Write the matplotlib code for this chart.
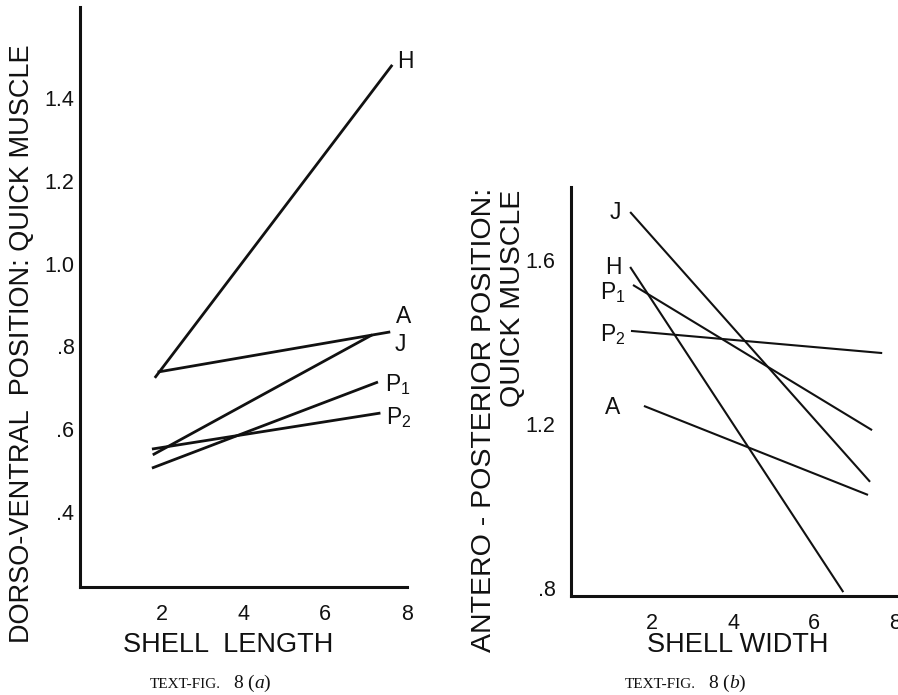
import matplotlib
matplotlib.use("Agg")
import matplotlib.pyplot as plt

plt.rcParams['font.family'] = ['Liberation Sans', 'DejaVu Sans']
plt.rcParams['mathtext.fontset'] = 'custom'
plt.rcParams['mathtext.rm'] = 'Liberation Sans'
plt.rcParams['mathtext.it'] = 'Liberation Serif:italic'
plt.rcParams['mathtext.sf'] = 'Liberation Sans'

# ---------------- data: panel (a) ----------------
a_series = ["H", "A", "J", "P$_1$", "P$_2$"]
a_x0 = [1.83, 1.90, 1.78, 1.76, 1.76]
a_x1 = [7.64, 7.59, 7.15, 7.29, 7.35]
a_y0 = [0.724, 0.738, 0.538, 0.506, 0.552]
a_y1 = [1.480, 0.835, 0.828, 0.714, 0.639]
a_xticks = [2, 4, 6, 8]
a_yticks = [0.4, 0.6, 0.8, 1.0, 1.2, 1.4]
a_yticklabels = [".4", ".6", ".8", "1.0", "1.2", "1.4"]

# ---------------- data: panel (b) ----------------
b_series = ["J", "H", "P$_1$", "P$_2$", "A"]
b_x0 = [1.46, 1.46, 1.53, 1.48, 1.80]
b_x1 = [7.38, 6.72, 7.43, 7.68, 7.33]
b_y0 = [1.717, 1.583, 1.539, 1.427, 1.244]
b_y1 = [1.059, 0.790, 1.185, 1.373, 1.027]
b_xticks = [2, 4, 6, 8]
b_yticks = [0.8, 1.2, 1.6]
b_yticklabels = [".8", "1.2", "1.6"]

# label offsets (pixels) from line end (a) / line start (b)
a_off = [(13, 3), (13, 15), (28, -10), (20, -3), (18, -5)]
b_off = [(-15, 0), (-17, -1), (-20, -8), (-18, -4), (-31, -2)]

W, H = 898, 695
fig = plt.figure(figsize=(W / 100, H / 100), dpi=100)
fig.patch.set_facecolor('white')

def fx(px):
    return px / W

def fy(py):
    return 1 - py / H

ink = '#111111'

ax1 = fig.add_axes([fx(80), fy(587), 327 / W, 580 / H])
ax2 = fig.add_axes([fx(571), fy(596), 327 / W, 409 / H])

for ax in (ax1, ax2):
    ax.set_facecolor('none')
    for s in ('top', 'right'):
        ax.spines[s].set_visible(False)
    for s in ('left', 'bottom'):
        ax.spines[s].set_linewidth(2.2)
        ax.spines[s].set_color(ink)
    ax.tick_params(length=0, labelsize=15.5, colors=ink)

# panel (a)
ax1.set_xlim(0, 8)
ax1.set_ylim(0.2188, 1.6198)
ax1.set_xticks(a_xticks)
ax1.set_yticks(a_yticks)
ax1.set_yticklabels(a_yticklabels)
ax1.tick_params(axis='x', pad=12)
ax1.tick_params(axis='y', pad=4)
for name, x0, x1, y0, y1, off in zip(a_series, a_x0, a_x1, a_y0, a_y1, a_off):
    ax1.plot([x0, x1], [y0, y1], color=ink, lw=2.0, solid_capstyle='butt', clip_on=False)
    ax1.annotate(name, (x1, y1), xytext=off, textcoords='offset pixels',
                 ha='center', va='center', fontsize=16.5, color=ink)

# panel (b)
ax2.set_xlim(0, 8.07)
ax2.set_ylim(0.7805, 1.778)
ax2.set_xticks(b_xticks)
ax2.set_yticks(b_yticks)
ax2.set_yticklabels(b_yticklabels)
ax2.tick_params(axis='x', pad=12)
ax2.tick_params(axis='y', pad=11)
for name, x0, x1, y0, y1, off in zip(b_series, b_x0, b_x1, b_y0, b_y1, b_off):
    ax2.plot([x0, x1], [y0, y1], color=ink, lw=1.5, solid_capstyle='butt', clip_on=False)
    ax2.annotate(name, (x0, y0), xytext=off, textcoords='offset pixels',
                 ha='center', va='center', fontsize=16.5, color=ink)

# axis titles
fig.text(fx(22), fy(344), "DORSO-VENTRAL  POSITION: QUICK MUSCLE",
         rotation=90, ha='center', va='center', fontsize=19.5, color=ink)
fig.text(fx(228), fy(645), "SHELL  LENGTH", ha='center', va='center',
         fontsize=19.5, color=ink)
fig.text(fx(484), fy(652), "ANTERO - POSTERIOR POSITION:",
         rotation=90, ha='center', va='bottom', fontsize=20.5, color=ink)
fig.text(fx(513), fy(190), "QUICK MUSCLE",
         rotation=90, ha='center', va='top', fontsize=20.5, color=ink)
fig.text(fx(738), fy(645), "SHELL WIDTH", ha='center', va='center',
         fontsize=19.5, color=ink)

# captions
cap = dict(family='Liberation Serif', color=ink)
for left, letter in ((147, 'a'), (622, 'b')):
    fig.text(fx(left + 74), fy(688), "TEXT-FIG.", ha='right', va='baseline',
             fontsize=11, **cap)
    fig.text(fx(left + 86), fy(688), "8 ($\\it{%s}$)" % letter, ha='left',
             va='baseline', fontsize=14, **cap)

fig.savefig("out.png", dpi=100, facecolor='white')
